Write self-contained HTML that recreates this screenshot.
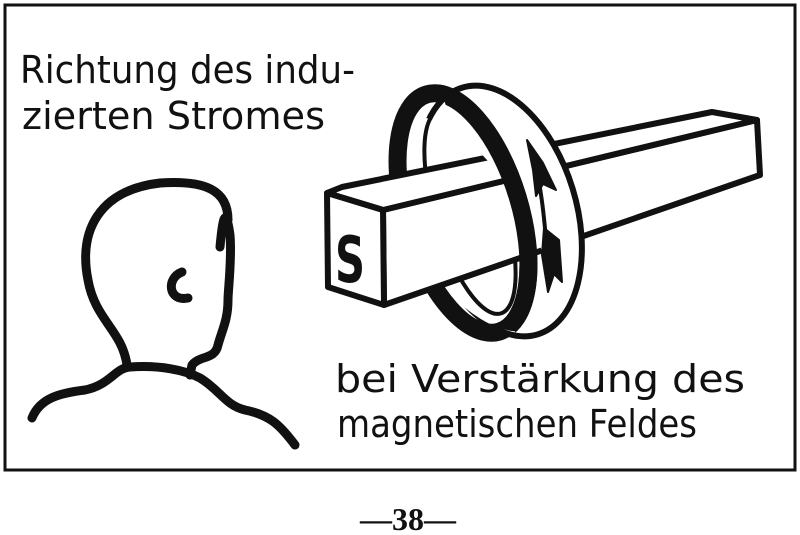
<!DOCTYPE html>
<html><head><meta charset="utf-8"><style>
html,body{margin:0;padding:0;background:#fff;}
svg{display:block}
text{font-family:"DejaVu Sans","Liberation Sans",sans-serif;fill:#111}
</style></head><body>
<svg width="800" height="535" viewBox="0 0 800 535" xmlns="http://www.w3.org/2000/svg">
<defs>
<clipPath id="rc"><rect x="478" y="0" width="200" height="400"/></clipPath>
<mask id="band">
<rect x="0" y="0" width="800" height="535" fill="#fff"/>
<ellipse cx="463" cy="213" rx="57" ry="124" transform="rotate(-17 463 213)" fill="#000"/>
</mask>
</defs>
<rect x="5" y="5" width="790" height="465" fill="#fff" stroke="#111" stroke-width="3"/>
<text x="20" y="83" font-size="38" textLength="335" lengthAdjust="spacingAndGlyphs">Richtung des indu-</text>
<text x="22" y="129" font-size="38" textLength="303" lengthAdjust="spacingAndGlyphs">zierten Stromes</text>
<text x="335" y="392" font-size="38" textLength="410" lengthAdjust="spacingAndGlyphs">bei Verstärkung des</text>
<text x="337" y="437" font-size="38" textLength="360" lengthAdjust="spacingAndGlyphs">magnetischen Feldes</text>
<text x="408" y="530" font-size="32" font-weight="bold" text-anchor="middle" style="font-family:'Liberation Serif',serif" textLength="96" lengthAdjust="spacingAndGlyphs">—38—</text>

<!-- head -->
<g fill="none" stroke="#111" stroke-width="9" stroke-linecap="round" stroke-linejoin="round">
<path d="M127 365 C122 330 95 320 88 280 C78 230 100 190 160 183 C205 180 228 190 228 220 M220 247 C222 225 225 200 230 235 C232 260 228 290 228 300 C228 320 222 330 218 345 C215 360 200 355 192 365 L190 375"/>
<path d="M32 418 C40 398 60 393 85 390 C110 385 115 368 130 367 C160 365 185 370 200 378 C220 390 225 405 245 410 C270 415 280 425 295 445"/>
<path d="M182 272 C166 278 168 302 188 298"/>
</g>

<!-- ring back -->
<ellipse cx="470" cy="212" rx="35" ry="106" transform="rotate(-17 470 212)" fill="none" stroke="#111" stroke-width="4"/>
<ellipse cx="463" cy="213" rx="57" ry="124" transform="rotate(-17 463 213)" fill="none" stroke="#111" stroke-width="18"/>

<!-- bar -->
<g stroke="#111" stroke-width="6" stroke-linejoin="round" fill="#fff">
<path d="M383 210 L757 120 L760 175 L384 305 Z"/>
<path d="M327 193 L342 187 L712 112 L757 120 L383 210 Z"/>
<path d="M327 193 L383 210 L384 305 L328 287 Z"/>
</g>
<text x="350" y="282" font-size="64" font-weight="bold" text-anchor="middle" style="font-family:'DejaVu Sans',sans-serif" textLength="30" lengthAdjust="spacingAndGlyphs">S</text>

<!-- ring front band -->
<ellipse cx="500" cy="211" rx="76" ry="129" transform="rotate(-17 500 211)" fill="#fff" stroke="#111" stroke-width="6" mask="url(#band)"/>
<ellipse cx="463" cy="213" rx="57" ry="124" transform="rotate(-17 463 213)" fill="none" stroke="#111" stroke-width="18" clip-path="url(#rc)"/>
<!-- arrow -->
<g fill="#111" stroke="#111" stroke-width="2" stroke-linejoin="round">
<path d="M527 140 L543 163 L556 190 L543 184 L536 196 L533 170 Z"/>
<path d="M544 228 L559 240 L562 282 L554 274 L548 292 L542 255 Z"/>
</g>
<path d="M532 150 C540 180 545 215 548 270" stroke="#111" stroke-width="4" fill="none"/>
</svg>
</body></html>
